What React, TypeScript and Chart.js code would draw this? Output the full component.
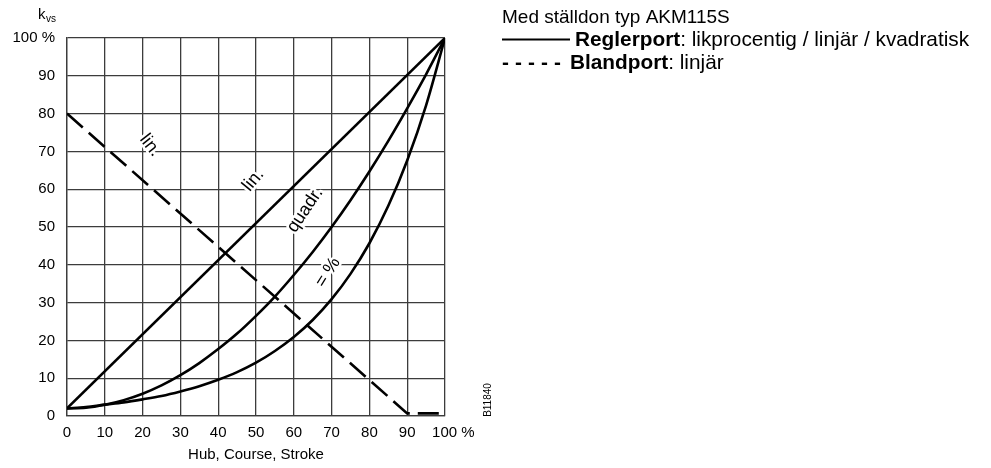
import React, { useEffect, useRef } from "react";
import { Chart, registerables } from "chart.js";

Chart.register(...registerables);

// Stroke positions (%) for the curved characteristics
const strokeSteps = [0, 5, 10, 15, 20, 25, 30, 35, 40, 45, 50, 55, 60, 65, 70, 75, 80, 85, 90, 95, 100];
// Control port, equal percentage
const equalPercent = [2.0, 2.4, 3.0, 3.6, 4.4, 5.3, 6.5, 7.9, 9.6, 11.6, 14.1, 17.2, 20.9, 25.4, 30.9, 37.6, 45.7, 55.6, 67.6, 82.2, 100];
// Control port, quadratic
const quadratic = [2.0, 2.2, 3.0, 4.2, 5.9, 8.1, 10.8, 14.0, 17.7, 21.8, 26.5, 31.6, 37.3, 43.4, 50.0, 57.1, 64.7, 72.8, 81.4, 90.4, 100];
// Control port, linear
const linearStroke = [0, 100];
const linearKvs = [2, 100];
// Mixing port, linear (dashed)
const mixStroke = [0, 90, 100];
const mixKvs = [80, 0.7, 0.7];

const yTickLabels: Record<number, string> = { 100: "100 %" };
const xTickLabels: Record<number, string> = { 100: "    100 %" };

const curveLabels = [
  { text: "lin.", x: 22, y: 71.6, angle: 52 },
  { text: "lin.", x: 49.3, y: 62.4, angle: -50 },
  { text: "quadr.", x: 63, y: 54.5, angle: -56 },
  { text: "= %", x: 69, y: 38, angle: -58 },
];

const axisTitleX = "Hub, Course, Stroke";
const legendTitle = "Med ställdon typ AKM115S";
const legendRows = [
  { mark: "solid", bold: "Reglerport", rest: ": likprocentig / linjär / kvadratisk" },
  { mark: "dash", bold: "Blandport", rest: ": linjär" },
];
const figureId = "B11840";

const FONT = '"Liberation Sans", Arial, Helvetica, sans-serif';

const toPoints = (xs: number[], ys: number[]) => xs.map((x, i) => ({ x, y: ys[i] }));

const textPlugin = {
  id: "texts",
  beforeDatasetsDraw(chart: any) {
    const { ctx } = chart;
    const xs = chart.scales.x;
    const ys = chart.scales.y;
    ctx.save();
    ctx.font = `18px ${FONT}`;
    ctx.textAlign = "center";
    ctx.textBaseline = "middle";
    for (const l of curveLabels) {
      ctx.save();
      ctx.translate(xs.getPixelForValue(l.x), ys.getPixelForValue(l.y));
      ctx.rotate((l.angle * Math.PI) / 180);
      ctx.strokeStyle = "#fff";
      ctx.lineWidth = 5;
      ctx.lineJoin = "round";
      ctx.strokeText(l.text, 0, 0);
      ctx.fillStyle = "#000";
      ctx.fillText(l.text, 0, 0);
      ctx.restore();
    }
    ctx.restore();
  },
  afterDraw(chart: any) {
    const { ctx } = chart;
    ctx.save();
    ctx.fillStyle = "#000";
    ctx.textBaseline = "alphabetic";
    ctx.textAlign = "left";
    // k_vs
    ctx.font = `15px ${FONT}`;
    ctx.fillText("k", 38, 19);
    ctx.font = `10px ${FONT}`;
    ctx.fillText("vs", 46, 22);
    // legend block
    const lx = 502;
    ctx.font = `19px ${FONT}`;
    ctx.fillText(legendTitle, lx, 23);
    const size = 20.8;
    legendRows.forEach((r, i) => {
      const y = 46 + i * 23;
      let x: number;
      if (r.mark === "solid") {
        ctx.save();
        ctx.strokeStyle = "#000";
        ctx.lineWidth = 2;
        ctx.beginPath();
        ctx.moveTo(lx, y - 6.5);
        ctx.lineTo(lx + 68, y - 6.5);
        ctx.stroke();
        ctx.restore();
        x = lx + 73;
      } else {
        ctx.font = `bold ${size}px ${FONT}`;
        for (let k = 0; k < 5; k++) ctx.fillText("-", lx + k * 13, y);
        x = lx + 68;
      }
      ctx.font = `bold ${size}px ${FONT}`;
      ctx.fillText(r.bold, x, y);
      x += ctx.measureText(r.bold).width;
      ctx.font = `${size}px ${FONT}`;
      ctx.fillText(r.rest, x, y);
    });
    // figure id
    ctx.save();
    ctx.translate(488, 400);
    ctx.rotate(-Math.PI / 2);
    ctx.textAlign = "center";
    ctx.textBaseline = "middle";
    ctx.font = `10px ${FONT}`;
    ctx.fillText(figureId, 0, 0);
    ctx.restore();
    ctx.restore();
  },
};

export default function App() {
  const ref = useRef<HTMLCanvasElement>(null);
  useEffect(() => {
    if (!ref.current) return;
    const gridColor = "#3c3c3c";
    const line = {
      borderColor: "#000",
      borderWidth: 2.6,
      pointRadius: 0,
      fill: false,
    };
    const chart = new Chart(ref.current, {
      type: "line",
      data: {
        datasets: [
          { ...line, cubicInterpolationMode: "monotone" as const, data: toPoints(strokeSteps, equalPercent) },
          { ...line, cubicInterpolationMode: "monotone" as const, data: toPoints(strokeSteps, quadratic) },
          { ...line, tension: 0, data: toPoints(linearStroke, linearKvs) },
          { ...line, tension: 0, borderDash: [21, 8], data: toPoints(mixStroke, mixKvs) },
        ],
      },
      options: {
        animation: false,
        responsive: false,
        devicePixelRatio: 1,
        layout: { padding: { left: 0, top: 38, right: 546, bottom: 0 } },
        plugins: { legend: { display: false }, tooltip: { enabled: false } },
        scales: {
          x: {
            type: "linear",
            min: 0,
            max: 100,
            ticks: {
              stepSize: 10,
              autoSkip: false,
              color: "#000",
              font: { family: FONT, size: 15 },
              padding: 8,
              maxRotation: 0,
              callback: (v: any) => xTickLabels[v] ?? String(v),
            },
            grid: { color: gridColor, lineWidth: 1.3, drawTicks: false },
            border: { color: gridColor, width: 1.3 },
            title: {
              display: true,
              text: axisTitleX,
              color: "#000",
              font: { family: FONT, size: 15 },
              padding: { top: 0, bottom: 4 },
            },
            afterFit: (s: any) => {
              s.height = 52;
            },
          },
          y: {
            type: "linear",
            min: 0,
            max: 100,
            ticks: {
              stepSize: 10,
              autoSkip: false,
              color: "#000",
              font: { family: FONT, size: 15 },
              padding: 12,
              callback: (v: any) => yTickLabels[v] ?? String(v),
            },
            grid: { color: gridColor, lineWidth: 1.3, drawTicks: false },
            border: { color: gridColor, width: 1.3 },
            afterFit: (s: any) => {
              s.width = 67;
            },
          },
        },
      },
      plugins: [textPlugin],
    });
    return () => chart.destroy();
  }, []);
  return (
    <div style={{ position: "absolute", left: 0, top: 0, width: 991, height: 468, background: "#fff" }}>
      <canvas ref={ref} width={991} height={468} style={{ width: 991, height: 468 }} />
    </div>
  );
}
